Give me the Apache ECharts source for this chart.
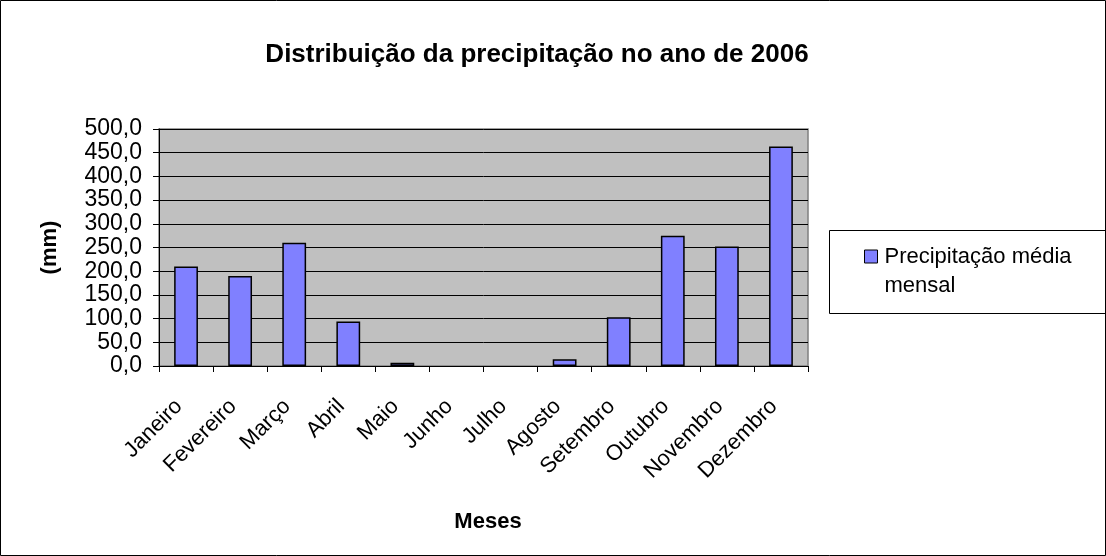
<!DOCTYPE html>
<html><head><meta charset="utf-8">
<script src="https://cdn.jsdelivr.net/npm/echarts@6/dist/echarts.min.js"></script>
<style>html,body{margin:0;padding:0;background:#fff}#c{width:1106px;height:556px}</style>
</head><body><div id="c"></div>
<script>
const categories = ['Janeiro','Fevereiro','Março','Abril','Maio','Junho','Julho','Agosto','Setembro','Outubro','Novembro','Dezembro'];
const precipitation = [210, 190, 260, 94, 7, 0, 0, 14, 103, 275, 252, 463];
const seriesName = 'Precipitação média mensal';
const titleText = 'Distribuição da precipitação no ano de 2006';

const chart = echarts.init(document.getElementById('c'), null, {renderer:'canvas'});
const F = 'Liberation Sans, Arial, sans-serif';
chart.setOption({
  animation:false,
  backgroundColor:'#fff',
  title:{text:titleText,left:532,top:37,textAlign:'center',textStyle:{fontFamily:F,fontSize:26,fontWeight:'bold',color:'#000'}},
  grid:{left:159,top:129,width:649,height:237,show:true,backgroundColor:'#c0c0c0',borderColor:'#808080',borderWidth:1.5},
  legend:{show:true,left:859,top:208,orient:'vertical',itemWidth:13,itemHeight:13,
    icon:'rect',
    textStyle:{fontFamily:F,fontSize:22,color:'#000',lineHeight:29,padding:[0,0,0,2]},
    formatter:function(){return '\nPrecipitação média\nmensal';},
    data:[{name:seriesName,itemStyle:{color:'#8080ff',borderColor:'#000',borderWidth:1}}]},
  graphic:[
    {type:'rect',shape:{x:0.5,y:0.5,width:1105,height:555},style:{fill:'none',stroke:'#000',lineWidth:1},z:100},
    {type:'rect',shape:{x:829.5,y:230.5,width:290,height:83},style:{fill:'#fff',stroke:'#000',lineWidth:1},z:0}
  ],
  xAxis:{type:'category',data:categories,name:'Meses',nameLocation:'middle',nameGap:145,
    nameTextStyle:{fontFamily:F,fontSize:22,fontWeight:'bold',color:'#000',padding:[0,0,0,9]},
    axisLine:{lineStyle:{color:'#000',width:1}},
    axisTick:{show:true,alignWithLabel:false,length:6,lineStyle:{color:'#000'}},
    axisLabel:{rotate:45,fontFamily:F,fontSize:22,color:'#000',margin:30,interval:0,padding:[0,10,0,0]}},
  yAxis:{type:'value',min:0,max:500,interval:50,name:'(mm)',nameLocation:'middle',nameGap:98,nameRotate:90,
    nameTextStyle:{fontFamily:F,fontSize:22,fontWeight:'bold',color:'#000'},
    axisLine:{show:true,lineStyle:{color:'#000',width:1}},
    axisTick:{show:true,length:6,lineStyle:{color:'#000'}},
    splitLine:{show:true,lineStyle:{color:'#000',width:1}},
    axisLabel:{fontFamily:F,fontSize:23,color:'#000',margin:17,
      formatter:function(v){return v.toFixed(1).replace('.',',');}}},
  series:[{name:seriesName,type:'bar',barWidth:'44%',
    data:precipitation.map(function(v){return v===0?{value:v,itemStyle:{borderWidth:0}}:v;}),
    itemStyle:{color:'#8080ff',borderColor:'#000',borderWidth:1.5}}]
});
</script></body></html>
